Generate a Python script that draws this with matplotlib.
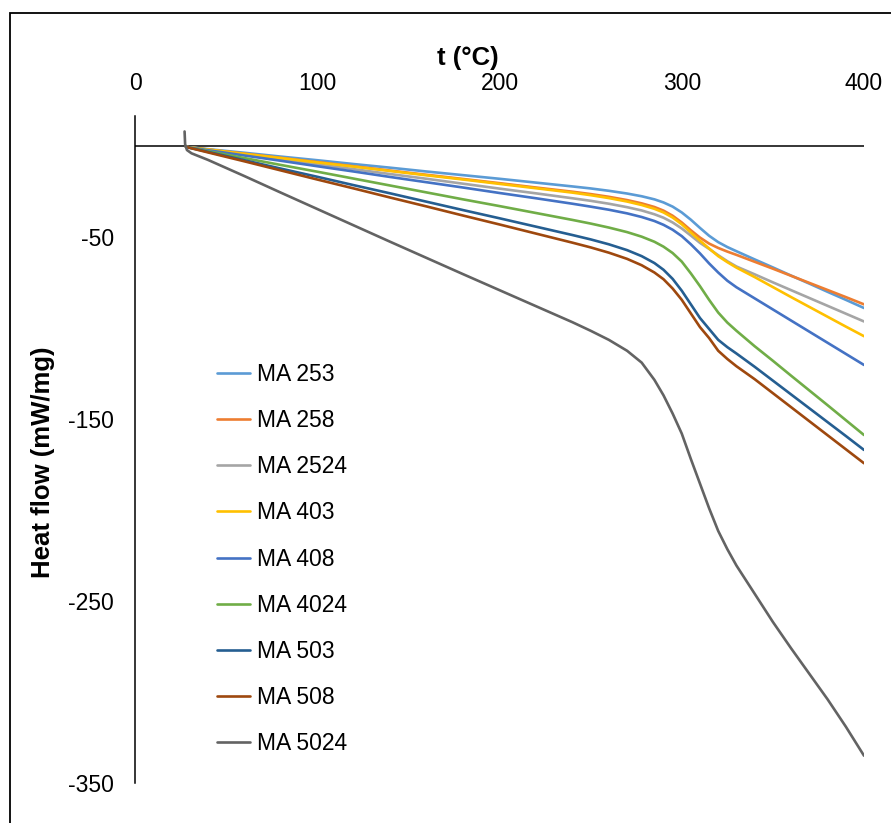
import matplotlib
matplotlib.use("Agg")
import matplotlib.pyplot as plt
from matplotlib.patches import Rectangle

plt.rcParams['font.family'] = ['Liberation Sans', 'DejaVu Sans']
plt.rcParams['axes.unicode_minus'] = False

# DSC heat flow curves (mW/mg), read at common temperatures (°C)
temp = [28, 40, 60, 80, 100, 120, 140, 160, 180, 200, 220, 240, 250, 260, 270, 278, 285,
        290, 295, 300, 305, 310, 315, 320, 325, 330, 340, 350, 360, 370, 380, 390, 400]

ma_253 = [-0.5, -1.7, -3.7, -5.8, -7.8, -9.9, -11.9, -14.0, -16.0, -18.0, -20.1, -22.2, -23.3,
          -24.6, -26.1, -27.6, -29.3, -31.0, -33.3, -36.5, -40.5, -45.0, -49.3, -52.8, -55.5,
          -57.8, -62.3, -66.7, -71.2, -75.6, -80.1, -84.5, -89.0]
ma_258 = [-0.5, -1.9, -4.2, -6.5, -8.8, -11.1, -13.5, -15.8, -18.1, -20.4, -22.8, -25.1, -26.4,
          -27.9, -29.7, -31.5, -33.5, -35.5, -38.3, -42.0, -46.3, -50.3, -53.6, -56.0, -58.0,
          -59.8, -63.6, -67.4, -71.3, -75.2, -79.1, -83.0, -87.0]
ma_2524 = [-0.5, -2.1, -4.8, -7.4, -10.1, -12.7, -15.4, -18.0, -20.7, -23.4, -26.0, -28.7, -30.1,
           -31.7, -33.6, -35.4, -37.5, -39.4, -42.0, -45.3, -49.2, -53.2, -56.5, -60.0, -63.3,
           -66.2, -70.5, -74.9, -79.2, -83.5, -87.8, -92.1, -96.4]
ma_403 = [-0.5, -1.9, -4.3, -6.6, -9.0, -11.3, -13.7, -16.1, -18.4, -20.8, -23.2, -25.6, -27.0,
          -28.6, -30.5, -32.4, -34.5, -36.5, -39.3, -43.0, -47.5, -52.0, -56.3, -60.5, -63.8,
          -66.8, -72.0, -77.5, -83.0, -88.4, -93.8, -99.2, -104.5]
ma_408 = [-0.5, -2.3, -5.2, -8.1, -11.1, -14.0, -17.0, -19.9, -22.8, -25.8, -28.7, -31.7, -33.3,
          -35.0, -37.0, -39.0, -41.2, -43.3, -46.0, -49.5, -54.0, -59.0, -64.5, -69.5, -74.0,
          -77.6, -83.7, -89.8, -95.9, -102.0, -108.1, -114.2, -120.3]
ma_4024 = [-0.5, -2.8, -6.6, -10.4, -14.1, -17.9, -21.7, -25.5, -29.3, -33.0, -36.8, -40.6, -42.6,
           -44.8, -47.3, -49.8, -52.6, -55.3, -58.8, -63.5, -70.0, -77.0, -84.5, -91.5, -97.0,
           -101.5, -110.0, -118.0, -126.2, -134.3, -142.4, -150.6, -158.8]
ma_503 = [-0.5, -3.2, -7.8, -12.4, -16.9, -21.5, -26.0, -30.6, -35.2, -39.7, -44.3, -48.9, -51.3,
          -54.0, -57.2, -60.5, -64.3, -68.0, -73.0, -79.5, -87.0, -94.5, -100.5, -106.5, -110.5,
          -114.0, -121.3, -128.9, -136.5, -144.1, -151.7, -159.3, -167.0]
ma_508 = [-0.5, -3.5, -8.4, -13.4, -18.4, -23.3, -28.3, -33.2, -38.2, -43.1, -48.1, -53.1, -55.7,
          -58.6, -62.0, -65.5, -69.5, -73.2, -78.3, -84.5, -92.0, -99.5, -105.5, -112.5, -117.0,
          -121.0, -128.1, -135.8, -143.5, -151.2, -158.9, -166.6, -174.3]

# MA 5024 has its own start with the small peak at ~27 °C
temp_5024 = [27.2, 27.5, 28.5, 31, 36, 40, 60, 80, 100, 120, 140, 160, 180, 200, 220, 240, 250,
             260, 270, 278, 285, 290, 295, 300, 305, 310, 315, 320, 325, 330, 340, 350, 360,
             370, 380, 390, 400]
ma_5024 = [8.0, 1.0, -2.2, -4.0, -6.0, -7.6, -16.5, -25.6, -34.6, -43.6, -52.6, -61.5, -70.4,
           -79.2, -88.0, -96.8, -101.5, -106.5, -112.5, -119.0, -128.5, -137.0, -147.0, -158.0,
           -172.0, -185.5, -199.0, -211.5, -221.5, -230.5, -246.0, -261.5, -276.0, -290.0,
           -304.0, -319.0, -335.0]

labels = ['MA 253', 'MA 258', 'MA 2524', 'MA 403', 'MA 408', 'MA 4024', 'MA 503', 'MA 508', 'MA 5024']
colors = ['#5B9BD5', '#ED7D31', '#A5A5A5', '#FFC000', '#4472C4', '#70AD47', '#255E91', '#9E480E', '#636363']
series = [ma_253, ma_258, ma_2524, ma_403, ma_408, ma_4024, ma_503, ma_508]

fig = plt.figure(figsize=(8.91, 8.23), dpi=100)
ax = fig.add_axes([0.15152, 0.04860, 0.81818, 0.81045])

for ys, lab, col in zip(series, labels[:-1], colors[:-1]):
    ax.plot(temp, ys, color=col, lw=1.9, label=lab, solid_capstyle='round',
            solid_joinstyle='round')
ax.plot(temp_5024, ma_5024, color=colors[-1], lw=1.9, label=labels[-1],
        solid_capstyle='round', solid_joinstyle='round')

ax.axhline(0, color='black', lw=1.1, zorder=1)

ax.set_xlim(0, 400)
ax.set_ylim(-350, 16.5)
ax.set_xticks([0, 100, 200, 300, 400])
ax.set_yticks([-350, -250, -150, -50])
ax.xaxis.tick_top()
ax.tick_params(axis='x', length=0, pad=15, labelsize=16.5)
ax.tick_params(axis='y', length=0, pad=15, labelsize=16.5)

for side in ['top', 'right', 'bottom']:
    ax.spines[side].set_visible(False)
ax.spines['left'].set_linewidth(1.1)

fig.text(468 / 891, 1 - 58 / 823, 't (°C)', ha='center', va='center',
         fontsize=18.5, fontweight='bold')
fig.text(43 / 891, 1 - 462 / 823, 'Heat flow (mW/mg)', ha='center', va='center',
         rotation=90, fontsize=18.5, fontweight='bold')

ax.legend(loc='upper left', bbox_to_anchor=(217 / 891, 1 - 363 / 823),
          bbox_transform=fig.transFigure, frameon=False, fontsize=16.5,
          handlelength=1.45, handletextpad=0.3, labelspacing=1.01,
          borderpad=0, borderaxespad=0)

# outer frame around the chart area
fig.patches.append(Rectangle((10 / 891, -0.1), 2, 1.1 - 13 / 823, fill=False,
                             edgecolor='black', lw=1.3, transform=fig.transFigure))

fig.savefig('out.png', dpi=100)
